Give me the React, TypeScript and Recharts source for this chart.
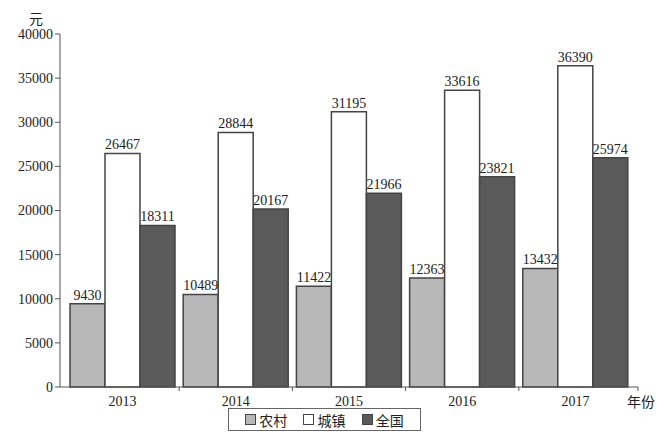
import React from 'react';
import { BarChart, Bar, XAxis, YAxis, LabelList, Legend } from 'recharts';

const years = ['2013', '2014', '2015', '2016', '2017'];
const rural = [9430, 10489, 11422, 12363, 13432];
const urban = [26467, 28844, 31195, 33616, 36390];
const national = [18311, 20167, 21966, 23821, 25974];
const yTicks = [0, 5000, 10000, 15000, 20000, 25000, 30000, 35000, 40000];

const seriesDefs = [
  { key: 'rural', name: '农村', fill: '#b8b8b8' },
  { key: 'urban', name: '城镇', fill: '#ffffff' },
  { key: 'national', name: '全国', fill: '#5a5a5a' },
];

const data = years.map((y, i) => ({ year: y, rural: rural[i], urban: urban[i], national: national[i] }));

const FONT = '"Liberation Serif", "Noto Sans CJK SC", serif';
const AXIS = '#555';
const W = 671;
const H = 440;
const M = { top: 34, right: 33, left: 0, bottom: 33 };
const Y_W = 60;
const PAD = { left: 6, right: 6 };
const PLOT_RIGHT = W - M.right;
const PLOT_W = W - M.left - M.right - Y_W - PAD.left - PAD.right;
const STEP = PLOT_W / years.length;

const XTick = (props: any) => {
  const { x, y, payload, index } = props;
  const left = x - STEP / 2;
  return (
    <g>
      {index > 0 && <line x1={left} x2={left} y1={y - 8} y2={y - 4} stroke={AXIS} />}
      {index === years.length - 1 && (
        <line x1={PLOT_RIGHT} x2={PLOT_RIGHT} y1={y - 8} y2={y - 4} stroke={AXIS} />
      )}
      <text x={x} y={y + 11} textAnchor="middle" fontSize={14} fill="#222" fontFamily={FONT}>
        {payload.value}
      </text>
    </g>
  );
};

const LegendBox = () => (
  <div
    style={{
      border: '1px solid #666',
      width: 193,
      height: 23,
      display: 'flex',
      alignItems: 'center',
      justifyContent: 'space-around',
      fontFamily: FONT,
      fontSize: 14,
      color: '#222',
      boxSizing: 'border-box',
      padding: '0 8px',
      background: '#fff',
    }}
  >
    {seriesDefs.map((s) => (
      <span key={s.key} style={{ display: 'flex', alignItems: 'center' }}>
        <span
          style={{
            display: 'inline-block',
            width: 9,
            height: 9,
            background: s.fill,
            border: '1px solid #444',
            marginRight: 3,
          }}
        />
        {s.name}
      </span>
    ))}
  </div>
);

export default function App() {
  return (
    <div style={{ position: 'absolute', left: 0, top: 0, width: W, height: H, background: '#fff' }}>
      <BarChart width={W} height={H} data={data} margin={M} barGap={0} barCategoryGap={4}>
        <XAxis
          dataKey="year"
          stroke={AXIS}
          tickLine={false}
          tick={<XTick />}
          height={20}
          interval={0}
          padding={PAD}
        />
        <YAxis
          width={Y_W}
          domain={[0, 40000]}
          ticks={yTicks}
          interval={0}
          stroke={AXIS}
          tickSize={5}
          tick={{ fontSize: 14, fill: '#222', fontFamily: FONT }}
        />
        <Legend
          layout="vertical"
          align="center"
          verticalAlign="middle"
          content={() => <LegendBox />}
          wrapperStyle={{ position: 'absolute', left: 228, top: 408, width: 193, height: 23 }}
        />
        {seriesDefs.map((s) => (
          <Bar
            key={s.key}
            dataKey={s.key}
            name={s.name}
            fill={s.fill}
            stroke="#444"
            strokeWidth={1.5}
            isAnimationActive={false}
          >
            <LabelList dataKey={s.key} position="top" offset={4} fontSize={14} fill="#222" fontFamily={FONT} />
          </Bar>
        ))}
        <text x={36} y={24} textAnchor="middle" fontSize={14} fill="#222" fontFamily={FONT}>
          元
        </text>
        <text x={641} y={407} textAnchor="middle" fontSize={14} fill="#222" fontFamily={FONT}>
          年份
        </text>
      </BarChart>
    </div>
  );
}
